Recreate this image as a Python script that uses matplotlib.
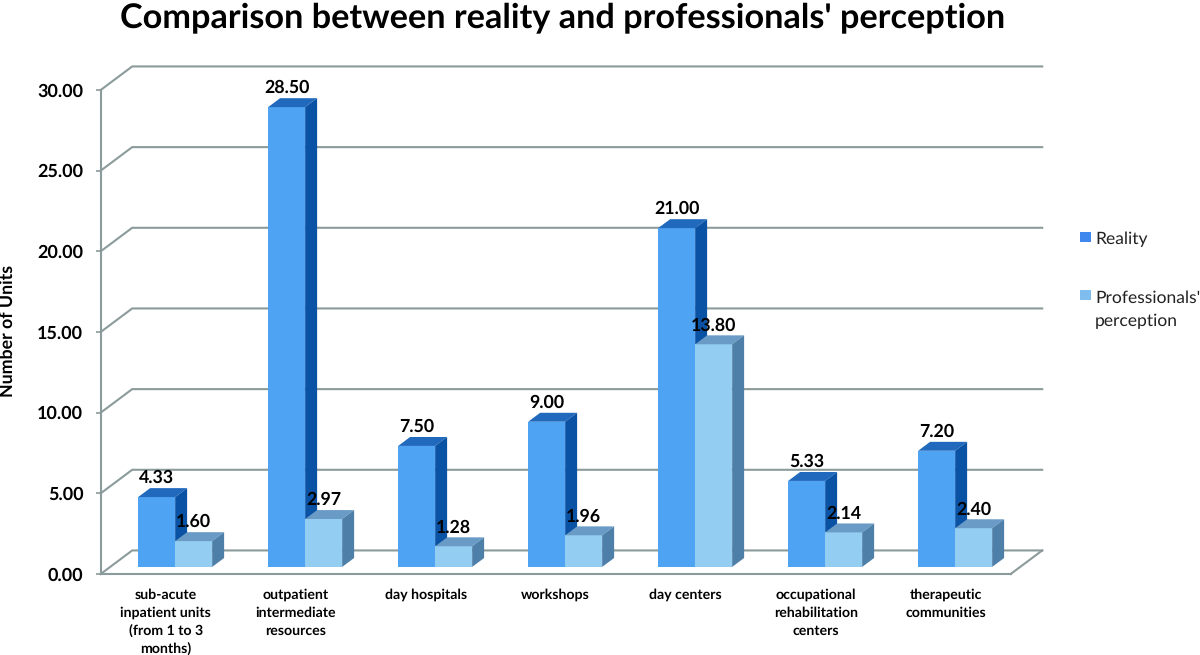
import numpy as np
import matplotlib
matplotlib.use('Agg')
import matplotlib.pyplot as plt
from matplotlib.patches import Rectangle

plt.rcParams['font.family'] = ['Lato', 'DejaVu Sans']
plt.rcParams['text.hinting'] = 'none'

categories = ['sub-acute\ninpatient units\n(from 1 to 3\nmonths)',
              'outpatient\nintermediate\nresources',
              'day hospitals',
              'workshops',
              'day centers',
              'occupational\nrehabilitation\ncenters',
              'therapeutic\ncommunities']
reality = [4.33, 28.50, 7.50, 9.00, 21.00, 5.33, 7.20]
perception = [1.60, 2.97, 1.28, 1.96, 13.80, 2.14, 2.40]
yticks = [0, 5, 10, 15, 20, 25, 30]

W, H = 1200, 655
grid_col = '#8b9b9b'
text_col = '#000000'

# depth of the fake 3d box, in data units
depth_x = 31.5 / 130
depth_y = 23.5 / 16.1
bar_w = 37 / 130
bar_start = 0.30
bar_depth = 0.38

fig = plt.figure(figsize=(12, 6.55), dpi=100)
ax = fig.add_axes([100.7 / W, 1 - 574 / H, 910 / W, 484 / H])
ax.set_xlim(0, 7)
ax.set_ylim(0, 30)


def draw_bar(x, v, front, top, side):
    # x is the left edge at the front of the floor
    x0 = x + bar_start * depth_x
    y0 = bar_start * depth_y
    x1 = x0 + bar_w
    y1 = y0 + v
    dx = bar_depth * depth_x
    dy = bar_depth * depth_y
    ax.fill([x0, x1, x1, x0], [y0, y0, y1, y1], color=front, lw=0, zorder=3, clip_on=False)
    ax.fill([x0, x1, x1 + dx, x0 + dx], [y1, y1, y1 + dy, y1 + dy], color=top, lw=0, zorder=3, clip_on=False)
    ax.fill([x1, x1 + dx, x1 + dx, x1], [y0, y0 + dy, y1 + dy, y1], color=side, lw=0, zorder=3, clip_on=False)
    ax.annotate('%.2f' % v, (x0 + bar_w / 2, y1), xytext=(0, 13.7), textcoords='offset points',
                ha='center', va='center', fontsize=12.8, fontweight='bold', color=text_col, zorder=5,
                annotation_clip=False)


# back wall and floor
for v in yticks:
    ax.plot([0, depth_x, 7 + depth_x], [v, v + depth_y, v + depth_y], color=grid_col, lw=1.5,
            zorder=1, clip_on=False, solid_joinstyle='miter')
ax.plot([7, 7 + depth_x], [0, depth_y], color=grid_col, lw=1.5, zorder=1, clip_on=False)

for i in range(len(categories)):
    left = i + 0.5 - bar_w
    draw_bar(left, reality[i], '#4fa3f3', '#2169bd', '#0a52a3')
    draw_bar(left + bar_w, perception[i], '#93cef2', '#6a9bc6', '#4e7fa8')

for s in ['top', 'right']:
    ax.spines[s].set_visible(False)
for s in ['left', 'bottom']:
    ax.spines[s].set_color(grid_col)
    ax.spines[s].set_linewidth(1.5)
    ax.spines[s].set_zorder(2)

ax.set_yticks(yticks)
ax.set_yticklabels(['%.2f' % v for v in yticks], fontsize=13, fontweight='bold', color=text_col)
ax.tick_params(axis='y', length=3.5, width=1.2, color=grid_col, pad=9)
ax.set_xticks(np.arange(len(categories)) + 0.5)
ax.set_xticklabels(categories, fontsize=10.2, fontweight='bold', color=text_col, linespacing=1.5)
ax.tick_params(axis='x', length=0, pad=10.5)

fig.text(8 / W, 1 - 331 / H, 'Number of Units', rotation=90, ha='center', va='center',
         fontsize=12.8, fontweight='bold', color=text_col)
fig.text(563 / W, 1 - 18 / H, "Comparison between reality and professionals' perception",
         ha='center', va='center', fontsize=24.7, fontweight='bold', color=text_col)

# legend
fig.add_artist(Rectangle((1080 / W, 1 - 242 / H), 11 / W, 10 / H, transform=fig.transFigure,
                         color='#3f89ee', lw=0))
fig.add_artist(Rectangle((1080 / W, 1 - 300 / H), 11 / W, 10 / H, transform=fig.transFigure,
                         color='#7fbdef', lw=0))
fig.text(1095 / W, 1 - 239 / H, 'Reality', ha='left', va='center', fontsize=12.6, color='#222222')
fig.text(1095 / W, 1 - 298 / H, "Professionals'", ha='left', va='center', fontsize=12.6, color='#222222')
fig.text(1095 / W, 1 - 321 / H, 'perception', ha='left', va='center', fontsize=12.6, color='#222222')

plt.savefig('out.png', dpi=100)
